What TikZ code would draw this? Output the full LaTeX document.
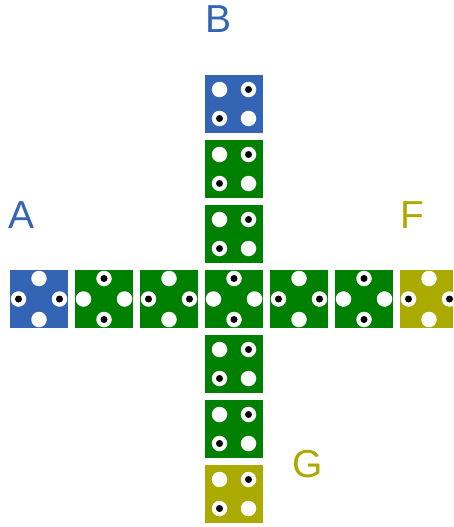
\documentclass[tikz,border=0pt]{standalone}
\usepackage{fontspec}
\setmainfont{Liberation Sans}
\definecolor{cblue}{RGB}{52,101,180}
\definecolor{cgreen}{RGB}{0,128,0}
\definecolor{colive}{RGB}{170,170,0}
\tikzset{
  tile/.style={rectangle, minimum size=58pt, inner sep=0pt, draw=none},
  hole/.style={circle, fill=white, minimum size=15.5pt, inner sep=0pt},
  pip/.style={circle, fill=black, minimum size=7pt, inner sep=0pt},
  lbl/.style={anchor=base, inner sep=0pt, font=\fontsize{39}{39}\selectfont},
}
% square tile: name, x, y, colour (pips top-right and bottom-left)
\newcommand\sqtile[4]{%
  \node[tile, fill=#4] (#1) at (#2,#3) {};
  \node[hole] at ([shift={(-14.5pt,14.5pt)}]#1.center) {};
  \node[hole] (#1tr) at ([shift={(14.5pt,14.5pt)}]#1.center) {};
  \node[hole] (#1bl) at ([shift={(-14.5pt,-14.5pt)}]#1.center) {};
  \node[hole] at ([shift={(14.5pt,-14.5pt)}]#1.center) {};
  \node[pip] at (#1tr) {};
  \node[pip] at (#1bl) {};
}
% cross tile, pips left/right
\newcommand\hcrtile[4]{%
  \node[tile, fill=#4] (#1) at (#2,#3) {};
  \node[hole] at ([shift={(0pt,-20.5pt)}]#1.center) {};
  \node[hole] at ([shift={(0pt,20.5pt)}]#1.center) {};
  \node[hole] (#1l) at ([shift={(-20.5pt,0pt)}]#1.center) {};
  \node[hole] (#1r) at ([shift={(20.5pt,0pt)}]#1.center) {};
  \node[pip] at (#1l) {};
  \node[pip] at (#1r) {};
}
% cross tile, pips top/bottom
\newcommand\vcrtile[4]{%
  \node[tile, fill=#4] (#1) at (#2,#3) {};
  \node[hole] (#1t) at ([shift={(0pt,20.5pt)}]#1.center) {};
  \node[hole] (#1b) at ([shift={(0pt,-20.5pt)}]#1.center) {};
  \node[hole] at ([shift={(-20.5pt,0pt)}]#1.center) {};
  \node[hole] at ([shift={(20.5pt,0pt)}]#1.center) {};
  \node[pip] at (#1t) {};
  \node[pip] at (#1b) {};
}
\begin{document}
\begin{tikzpicture}[x=1pt,y=-1pt]
\useasboundingbox (0,0) rectangle (453,527);
\clip (0,0) rectangle (453,527);
% vertical column
\sqtile{c1}{234}{104}{cblue}
\sqtile{c2}{234}{169}{cgreen}
\sqtile{c3}{234}{234}{cgreen}
\sqtile{c5}{234}{364}{cgreen}
\sqtile{c6}{234}{429}{cgreen}
\sqtile{c7}{234}{494}{colive}
% horizontal row
\hcrtile{r1}{39}{299}{cblue}
\vcrtile{r2}{104}{299}{cgreen}
\hcrtile{r3}{169}{299}{cgreen}
\vcrtile{r4}{234}{299}{cgreen}
\hcrtile{r5}{299}{299}{cgreen}
\vcrtile{r6}{364}{299}{cgreen}
\hcrtile{r7}{429}{299}{colive}
% labels
\node[lbl, text=cblue] (lB) at (218.5,33) {B};
\node[lbl, text=cblue] (lA) at (22,228) {A};
\node[lbl, text=colive] (lF) at (412,228) {F};
\node[lbl, text=colive] (lG) at (307.5,477.5) {G};
\end{tikzpicture}
\end{document}
